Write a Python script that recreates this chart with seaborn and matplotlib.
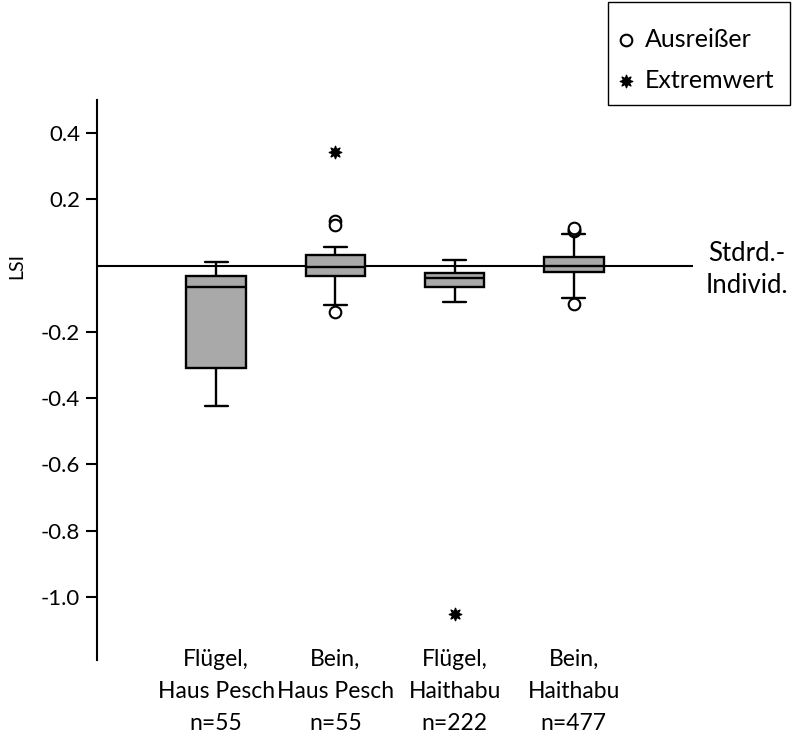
import numpy as np
import pandas as pd
import matplotlib
matplotlib.use("Agg")
import matplotlib.pyplot as plt
from matplotlib.patches import Rectangle
import seaborn as sns

# Groups (x axis)
groups = [
    "Flügel,\nHaus Pesch\nn=55",
    "Bein,\nHaus Pesch\nn=55",
    "Flügel,\nHaithabu\nn=222",
    "Bein,\nHaithabu\nn=477",
]
positions = [0, 1, 2, 3]

# Box statistics per group: lower whisker, Q1, median, Q3, upper whisker
whisker_low = [-0.422, -0.120, -0.109, -0.098]
q1 = [-0.308, -0.030, -0.063, -0.020]
median = [-0.064, -0.004, -0.038, -0.001]
q3 = [-0.032, 0.031, -0.022, 0.027]
whisker_high = [0.010, 0.057, 0.018, 0.097]

# Outliers (Ausreißer) and extreme values (Extremwert)
outlier_pos = [1, 1, 1, 3, 3, 3, 3]
outlier_val = [0.136, 0.122, -0.141, 0.105, 0.109, 0.113, -0.116]
extreme_pos = [1, 2]
extreme_val = [0.342, -1.052]

y_ticks = [0.4, 0.2, -0.2, -0.4, -0.6, -0.8, -1.0]

sns.set_theme(style="white")
plt.rcParams["font.family"] = ["Lato", "DejaVu Sans"]

# Long-form table: the five summary values of each group
box_df = pd.DataFrame({
    "pos": np.repeat(positions, 5),
    "LSI": np.column_stack([whisker_low, q1, median, q3, whisker_high]).ravel(),
})
out_df = pd.DataFrame({"pos": outlier_pos, "LSI": outlier_val})
ext_df = pd.DataFrame({"pos": extreme_pos, "LSI": extreme_val})

fig = plt.figure(figsize=(7.93, 7.37), dpi=100)
ax = fig.add_axes([0.1223, 0.1045, 0.7516, 0.7598])

# Reference line of the standard individual
ax.axhline(0, color="black", linewidth=1.5, zorder=1.5)

sns.boxplot(
    data=box_df, x="pos", y="LSI", orient="x", native_scale=True,
    whis=(0, 100), width=0.5, color="#a9a9a9", saturation=1,
    linecolor="black", linewidth=1.7, showfliers=False,
    capwidths=0.19, ax=ax,
)

sns.scatterplot(
    data=out_df, x="pos", y="LSI", marker="o", s=70,
    facecolor="white", edgecolor="black", linewidth=1.5,
    label="Ausreißer", ax=ax, zorder=4,
)
sns.scatterplot(
    data=ext_df, x="pos", y="LSI", marker=(8, 1, 0), s=80,
    color="black", edgecolor="black", linewidth=1.0,
    label="Extremwert", ax=ax, zorder=4,
)

ax.set_xlim(-1.0, 4.0)
ymin, ymax = -1.19, 0.50
ax.set_ylim(ymin, ymax)

ax.set_xticks(positions)
ax.set_xticklabels(groups, fontsize=16.5, linespacing=1.65)
ax.tick_params(axis="x", length=0, pad=-8, colors="black")
ax.set_xlabel("")

ax.set_yticks(y_ticks)
ax.set_yticklabels([f"{v:.1f}" for v in y_ticks], fontsize=16)
ax.tick_params(axis="y", direction="out", length=8, width=1.5,
               colors="black", left=True, pad=4)

for side in ["top", "right", "bottom"]:
    ax.spines[side].set_visible(False)
ax.spines["left"].set_color("black")
ax.spines["left"].set_linewidth(1.5)

ax.set_ylabel("LSI", fontsize=14, color="black")
ax.yaxis.set_label_coords(-0.121, (0 - ymin) / (ymax - ymin))

ax.text(1.09, -0.012, "Stdrd.-\nIndivid.", transform=ax.get_yaxis_transform(),
        ha="center", va="center", fontsize=18.5, linespacing=1.35,
        color="black", clip_on=False)

# Legend in the top right corner of the figure, with its own frame
handles, labels = ax.get_legend_handles_labels()
leg = ax.legend(
    handles, labels, loc="upper left",
    bbox_to_anchor=(620 / 793, 1 - 28 / 737), bbox_transform=fig.transFigure,
    frameon=False, fontsize=18, labelspacing=0.7,
    borderpad=0, handletextpad=0.5, handlelength=0.5, borderaxespad=0,
)
for t in leg.get_texts():
    t.set_color("black")
fig.add_artist(Rectangle(
    (608 / 793, 1 - 105 / 737), 182 / 793, 103 / 737,
    transform=fig.transFigure, fill=False, edgecolor="black", linewidth=1.0,
))

fig.savefig("out.png", dpi=100)
